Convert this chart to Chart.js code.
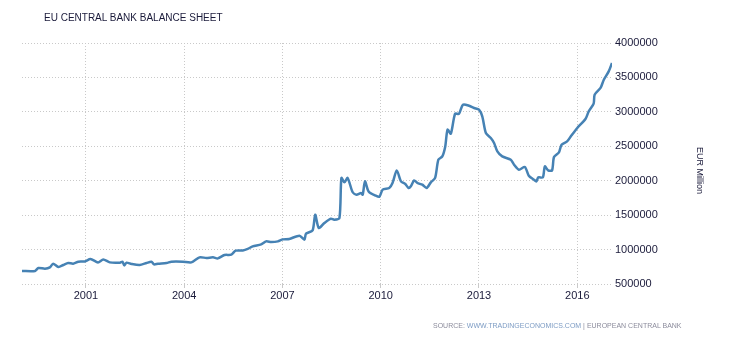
<!DOCTYPE html>
<html>
<head>
<meta charset="utf-8">
<script src="https://cdn.jsdelivr.net/npm/chart.js@4"></script>
<style>
  body { margin: 0; background: #fff; }
  #wrap { position: relative; width: 730px; height: 340px; }
  #title {
    position: absolute; left: 44px; top: 12px;
    font: 10px "Liberation Sans", Arial, sans-serif; line-height: 12px;
    color: #1a1a3a; white-space: nowrap;
  }
  #unit {
    position: absolute; left: 694px; top: 147px;
    writing-mode: vertical-rl;
    font: 9px "Liberation Sans", Arial, sans-serif; line-height: 12px;
    color: #1a1a3a; white-space: nowrap;
  }
  #source {
    position: absolute; left: 433px; top: 321px;
    font: 7px "Liberation Sans", Arial, sans-serif; line-height: 10px;
    color: #8c8c9c; white-space: nowrap;
  }
  #source span { color: #7d9cc4; }
</style>
</head>
<body>
<div id="wrap">
  <canvas id="balanceChart" width="730" height="340"></canvas>
  <div id="title">EU CENTRAL BANK BALANCE SHEET</div>
  <div id="unit">EUR Million</div>
  <div id="source">SOURCE: <span>WWW.TRADINGECONOMICS.COM</span> | EUROPEAN CENTRAL BANK</div>
</div>
<script>
// ECB total assets, EUR million, by decimal year
const years = [
  1999.05, 1999.45, 1999.55, 1999.75, 1999.90, 2000.00, 2000.16, 2000.31, 2000.46, 2000.61,
  2000.77, 2000.97, 2001.14, 2001.37, 2001.53, 2001.73, 2002.04, 2002.12, 2002.17, 2002.24,
  2002.39, 2002.64, 2002.85, 2003.00, 2003.08, 2003.20, 2003.46, 2003.61, 2003.96, 2004.22,
  2004.47, 2004.68, 2004.88, 2005.03, 2005.23, 2005.44, 2005.57, 2005.79, 2005.94, 2006.09,
  2006.35, 2006.50, 2006.66, 2006.86, 2007.01, 2007.21, 2007.52, 2007.67, 2007.72, 2007.92,
  2008.00, 2008.11, 2008.28, 2008.48, 2008.58, 2008.74, 2008.80, 2008.89, 2008.99, 2009.14,
  2009.26, 2009.40, 2009.45, 2009.52, 2009.63, 2009.85, 2009.96, 2010.06, 2010.26, 2010.36,
  2010.49, 2010.62, 2010.75, 2010.85, 2010.92, 2011.02, 2011.12, 2011.27, 2011.40, 2011.53,
  2011.66, 2011.76, 2011.88, 2011.97, 2012.04, 2012.14, 2012.27, 2012.39, 2012.51, 2012.70,
  2012.85, 2013.00, 2013.10, 2013.21, 2013.36, 2013.46, 2013.56, 2013.71, 2013.97, 2014.07,
  2014.22, 2014.40, 2014.52, 2014.68, 2014.75, 2014.81, 2014.95, 2015.01, 2015.11, 2015.23,
  2015.29, 2015.44, 2015.52, 2015.69, 2015.79, 2016.00, 2016.25, 2016.35, 2016.50, 2016.53,
  2016.71, 2016.81, 2016.96, 2017.06
];
const balance = [
  690000, 690000, 733000, 722000, 741000, 795000, 747000, 776000, 805000, 795000,
  824000, 828000, 863000, 814000, 857000, 814000, 810000, 824000, 770000, 810000,
  791000, 776000, 805000, 824000, 785000, 795000, 805000, 824000, 824000, 814000,
  887000, 878000, 887000, 872000, 921000, 926000, 984000, 988000, 1009000, 1046000,
  1075000, 1119000, 1110000, 1119000, 1148000, 1154000, 1202000, 1144000, 1231000, 1279000,
  1507000, 1313000, 1386000, 1449000, 1434000, 1459000, 2040000, 1976000, 2040000, 1836000,
  1797000, 1822000, 1797000, 1990000, 1845000, 1782000, 1768000, 1870000, 1894000, 1967000,
  2150000, 1990000, 1952000, 1894000, 1918000, 2005000, 1967000, 1942000, 1894000, 1976000,
  2040000, 2305000, 2353000, 2498000, 2741000, 2683000, 2972000, 2972000, 3104000, 3089000,
  3056000, 3031000, 2934000, 2693000, 2620000, 2548000, 2426000, 2353000, 2305000, 2233000,
  2160000, 2199000, 2073000, 2014000, 1990000, 2048000, 2048000, 2208000, 2150000, 2150000,
  2344000, 2411000, 2523000, 2571000, 2635000, 2766000, 2896000, 3007000, 3119000, 3249000,
  3347000, 3467000, 3588000, 3710000
];
const yearTicks = [2001, 2004, 2007, 2010, 2013, 2016];
const valueTicks = [500000, 1000000, 1500000, 2000000, 2500000, 3000000, 3500000, 4000000];

const gridStyle = {
  color: '#c9c9c9',
  lineWidth: 1,
};

const ctx = document.getElementById('balanceChart').getContext('2d');
const chart = new Chart(ctx, {
  type: 'line',
  data: {
    datasets: [{
      data: years.map((x, i) => ({ x: x, y: balance[i] })),
      borderColor: '#4682b4',
      borderWidth: 2.5,
      pointRadius: 0,
      tension: 0.25,
      fill: false,
    }]
  },
  options: {
    responsive: false,
    animation: false,
    layout: { padding: { left: 22, top: 43, right: 0, bottom: 36 } },
    plugins: {
      legend: { display: false },
      tooltip: { enabled: false },
    },
    scales: {
      x: {
        type: 'linear',
        min: 1999.05,
        max: 2017.06,
        afterBuildTicks: (axis) => { axis.ticks = yearTicks.map(v => ({ value: v })); },
        afterFit: (axis) => { axis.height = 20; },
        border: { display: false, dash: [1, 2] },
        grid: { ...gridStyle, tickLength: 4 },
        ticks: {
          padding: 1,
          maxRotation: 0,
          color: '#1a1a3a',
          font: { family: '"Liberation Sans", Arial, sans-serif', size: 11 },
          callback: (v) => String(v),
        },
      },
      y: {
        position: 'right',
        min: 500000,
        max: 4000000,
        afterBuildTicks: (axis) => { axis.ticks = valueTicks.map(v => ({ value: v })); },
        afterFit: (axis) => { axis.width = 118; },
        border: { display: false, dash: [1, 2] },
        grid: { ...gridStyle, drawTicks: false },
        ticks: {
          padding: 3,
          color: '#1a1a3a',
          font: { family: '"Liberation Sans", Arial, sans-serif', size: 11 },
          callback: (v) => String(v),
        },
      },
    },
  },
});
</script>
</body>
</html>
